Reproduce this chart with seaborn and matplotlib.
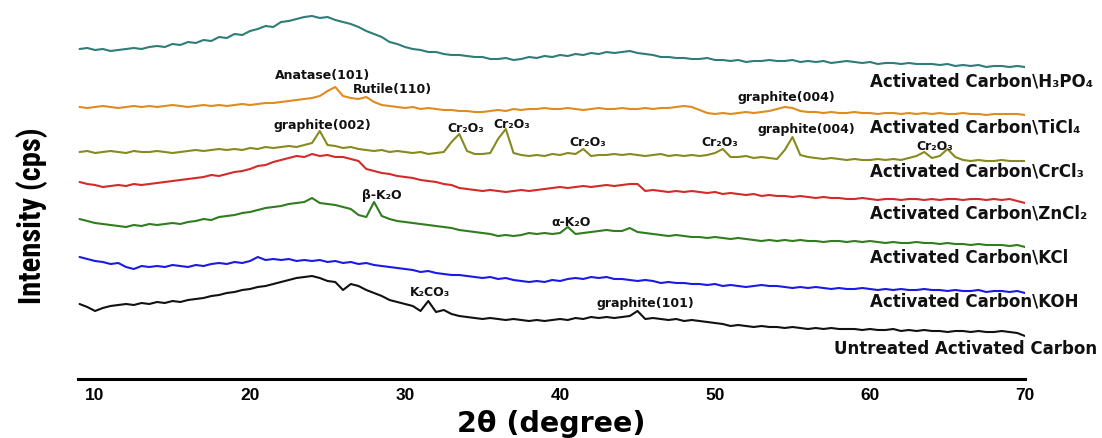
import numpy as np
import pandas as pd
import matplotlib
matplotlib.use("Agg")
import matplotlib.pyplot as plt
from matplotlib import font_manager
import seaborn as sns

# ---------------- data ----------------
two_theta = np.arange(9.0, 70.01, 0.5)  # sampling grid, 123 points

h3po4 = [330, 331, 329, 330, 328, 329, 330, 331, 330, 332,
         333, 332, 335, 334, 337, 336, 339, 338, 342, 341,
         345, 344, 348, 350, 353, 352, 357, 358, 360, 362,
         363, 361, 362, 359, 357, 355, 352, 348, 345, 342,
         337, 335, 332, 330, 329, 327, 327, 325, 324, 324,
         323, 322, 322, 320, 320, 321, 319, 320, 322, 321,
         323, 322, 324, 323, 325, 324, 326, 325, 327, 326,
         327, 328, 326, 325, 324, 322, 322, 321, 321, 320,
         320, 321, 319, 319, 318, 319, 317, 318, 318, 319,
         318, 318, 319, 317, 318, 317, 318, 316, 317, 318,
         317, 316, 317, 315, 316, 316, 315, 316, 315, 315,
         315, 314, 315, 313, 314, 313, 314, 312, 313, 313,
         312, 313, 312]

ticl4 = [272, 271, 272, 273, 272, 271, 272, 273, 272, 273,
         272, 273, 274, 273, 272, 273, 274, 273, 274, 273,
         274, 275, 274, 275, 276, 276, 277, 278, 279, 280,
         281, 283, 288, 292, 283, 281, 280, 282, 277, 274,
         273, 272, 271, 272, 270, 271, 270, 269, 269, 268,
         268, 267, 267, 268, 269, 268, 270, 269, 270, 270,
         271, 270, 270, 271, 270, 269, 270, 271, 270, 270,
         271, 270, 270, 271, 270, 271, 271, 272, 273, 272,
         269, 266, 265, 266, 265, 266, 267, 266, 267, 268,
         270, 272, 271, 268, 267, 267, 266, 267, 266, 266,
         267, 266, 266, 265, 266, 266, 265, 266, 265, 266,
         265, 266, 265, 265, 266, 265, 265, 264, 265, 265,
         265, 265, 264]

crcl3 = [227, 228, 226, 227, 228, 227, 226, 228, 227, 227,
         228, 227, 226, 227, 228, 229, 228, 229, 230, 229,
         230, 229, 231, 230, 232, 231, 232, 233, 232, 234,
         236, 248, 234, 233, 231, 232, 230, 229, 228, 229,
         227, 228, 227, 226, 227, 225, 226, 227, 237, 245,
         228, 225, 225, 226, 240, 250, 226, 224, 223, 224,
         223, 225, 224, 226, 225, 230, 223, 224, 224, 225,
         224, 225, 224, 223, 224, 225, 223, 224, 223, 224,
         223, 224, 226, 230, 222, 222, 223, 221, 222, 221,
         220, 229, 242, 224, 222, 221, 220, 221, 220, 219,
         220, 219, 219, 220, 219, 220, 219, 221, 223, 227,
         221, 223, 230, 222, 219, 218, 219, 218, 218, 219,
         218, 218, 218]

zncl2 = [197, 195, 194, 192, 193, 194, 193, 195, 194, 195,
         196, 197, 198, 199, 200, 201, 202, 204, 203, 205,
         207, 208, 210, 213, 214, 217, 219, 221, 223, 222,
         225, 223, 224, 222, 222, 220, 218, 210, 208, 206,
         205, 203, 202, 201, 199, 198, 197, 195, 194, 191,
         190, 189, 188, 189, 188, 187, 188, 189, 188, 189,
         190, 191, 192, 191, 192, 193, 192, 193, 194, 193,
         194, 195, 195, 188, 189, 188, 187, 188, 187, 188,
         187, 186, 187, 185, 186, 185, 184, 185, 183, 184,
         183, 183, 182, 183, 182, 181, 182, 181, 181, 180,
         180, 181, 180, 179, 180, 180, 179, 180, 180, 179,
         180, 179, 180, 180, 179, 180, 180, 179, 180, 179,
         180, 178, 176]

kcl = [160, 158, 156, 155, 154, 153, 152, 154, 153, 155,
       154, 155, 156, 155, 157, 158, 160, 159, 162, 163,
       164, 166, 167, 169, 171, 172, 173, 175, 176, 177,
       181, 176, 175, 174, 172, 170, 164, 162, 177, 163,
       160, 158, 157, 156, 155, 154, 153, 152, 151, 149,
       148, 147, 146, 145, 143, 144, 143, 144, 146, 145,
       146, 145, 146, 152, 145, 146, 147, 148, 149, 148,
       148, 151, 147, 146, 145, 144, 143, 144, 143, 142,
       142, 141, 142, 141, 140, 141, 140, 139, 138, 139,
       138, 139, 138, 139, 138, 138, 137, 138, 138, 137,
       138, 137, 138, 137, 136, 137, 136, 136, 137, 136,
       136, 135, 136, 135, 135, 134, 135, 134, 134, 134,
       133, 134, 132]

koh = [122, 120, 118, 117, 115, 116, 112, 110, 113, 112,
       113, 112, 114, 113, 112, 114, 113, 115, 116, 115,
       117, 116, 118, 122, 119, 120, 119, 120, 118, 119,
       118, 119, 117, 118, 116, 117, 115, 116, 114, 113,
       112, 111, 110, 109, 107, 108, 106, 105, 104, 104,
       103, 102, 101, 102, 100, 101, 99, 98, 97, 98,
       97, 99, 98, 100, 101, 100, 102, 101, 102, 100,
       100, 99, 98, 99, 98, 96, 97, 96, 96, 95,
       95, 94, 95, 93, 94, 93, 92, 93, 94, 93,
       93, 92, 91, 92, 91, 92, 91, 90, 91, 90,
       90, 91, 90, 89, 90, 89, 90, 89, 89, 90,
       89, 89, 88, 89, 88, 88, 89, 87, 88, 88,
       87, 88, 86]

untreated = [75, 72, 68, 71, 73, 74, 75, 74, 76, 75,
             77, 76, 78, 77, 79, 80, 81, 83, 84, 86,
             87, 89, 90, 92, 93, 95, 97, 99, 101, 102,
             103, 101, 98, 97, 89, 95, 93, 89, 86, 83,
             79, 77, 75, 73, 68, 78, 67, 69, 65, 63,
             62, 61, 60, 61, 60, 59, 60, 59, 58, 59,
             58, 59, 60, 59, 61, 60, 62, 61, 62, 61,
             62, 63, 68, 60, 61, 60, 59, 60, 58, 59,
             58, 57, 56, 55, 53, 54, 53, 52, 53, 52,
             52, 51, 52, 51, 50, 51, 50, 51, 50, 50,
             50, 49, 50, 49, 49, 50, 48, 49, 48, 49,
             48, 48, 47, 48, 48, 47, 48, 47, 47, 48,
             47, 46, 43]

sample_names = ["Activated Carbon\\H\u2083PO\u2084",
                "Activated Carbon\\TiCl\u2084",
                "Activated Carbon\\CrCl\u2083",
                "Activated Carbon\\ZnCl\u2082",
                "Activated Carbon\\KCl",
                "Activated Carbon\\KOH",
                "Untreated Activated Carbon"]
series = [h3po4, ticl4, crcl3, zncl2, kcl, koh, untreated]

x_ticks = [10, 20, 30, 40, 50, 60, 70]

peak_names = ["Anatase(101)", "Rutile(110)", "graphite(004)",
              "graphite(002)", "Cr\u2082O\u2083", "Cr\u2082O\u2083", "Cr\u2082O\u2083",
              "Cr\u2082O\u2083", "graphite(004)", "Cr\u2082O\u2083",
              "\u03b2-K\u2082O", "\u03b1-K\u2082O", "K\u2082CO\u2083", "graphite(101)"]

# ---------------- styling / layout ----------------
colors = ["#2e7d78", "#e08b1f", "#878a1e", "#d42a2a", "#2f7d1f", "#1a1ae6", "#111111"]
peak_pos = [(24.65, 305), (29.2, 290), (54.6, 283),
            (24.65, 254), (33.9, 252), (36.9, 256), (41.8, 238),
            (50.3, 238), (55.9, 250), (64.2, 234),
            (28.5, 184), (40.7, 158), (31.6, 87), (45.5, 77)]
name_pos = [(60.0, 298), (60.0, 253), (60.0, 208), (60.0, 166),
            (60.0, 122), (60.0, 78), (57.7, 31)]

sns.set_style("white")
plt.rcParams["font.family"] = ["DejaVu Sans"]
plt.rcParams["text.color"] = "black"
plt.rcParams["xtick.color"] = "black"
plt.rcParams["axes.labelcolor"] = "black"


def pick_font(candidates):
    for name in candidates:
        try:
            font_manager.findfont(font_manager.FontProperties(family=name, weight="bold"),
                                  fallback_to_default=False)
            return name
        except Exception:
            continue
    return None


narrow = pick_font(["Liberation Sans Narrow", "Roboto Condensed", "Arial Narrow"])

frames = []
for name, vals in zip(sample_names, series):
    frames.append(pd.DataFrame({"two_theta": two_theta, "intensity": vals, "sample": name}))
df = pd.concat(frames, ignore_index=True)

fig = plt.figure(figsize=(11.02, 4.39), dpi=100)
ax = fig.add_axes([78 / 1102, 1 - 380 / 439, (1025 - 78) / 1102, 380 / 439])

sns.lineplot(data=df, x="two_theta", y="intensity", hue="sample",
             palette=dict(zip(sample_names, colors)), estimator=None, sort=False,
             legend=False, linewidth=1.5, ax=ax)

ax.set_xlim(8.9, 70)
ax.set_ylim(0, 380)
for s in ["left", "right", "top"]:
    ax.spines[s].set_visible(False)
ax.spines["bottom"].set_linewidth(2.2)
ax.spines["bottom"].set_color("black")
ax.set_yticks([])

major = [t for t in x_ticks if t % 20 == 0]
minor = [t for t in x_ticks if t % 20 != 0]
tick_font = dict(family=["Liberation Sans", "DejaVu Sans"], weight="bold", size=12.5)
ax.set_xticks(major, labels=[str(t) for t in major], **tick_font)
ax.set_xticks(minor, labels=[str(t) for t in minor], minor=True, **tick_font)
ax.tick_params(axis="x", which="major", direction="in", length=7, width=1.6, pad=6,
               color="black", labelcolor="black")
ax.tick_params(axis="x", which="minor", direction="in", length=4, width=1.4, pad=6,
               color="black", labelcolor="black")

ax.set_xlabel("2\u03b8 (degree)", family=["DejaVu Sans"], weight="bold", size=20.5,
              color="black")
ax.xaxis.label.set_va("baseline")
ax.xaxis.set_label_coords(0.5, -(432 - 380) / 380)
ax.set_ylabel("")

if narrow is not None:
    yfam, ysize = [narrow, "Liberation Sans", "DejaVu Sans"], 22
else:
    yfam, ysize = ["Liberation Sans", "DejaVu Sans"], 18.5
fig.text(32 / 1102, 1 - 216 / 439, "Intensity (cps)", rotation=90, ha="center", va="center",
         family=yfam, weight="bold", size=ysize, color="black")

for (px, py), txt in zip(peak_pos, peak_names):
    ax.text(px, py, txt, ha="center", va="center", size=9, weight="bold", color="#111111")

for (px, py), txt in zip(name_pos, sample_names):
    ax.text(px, py, txt, ha="left", va="center", size=12, weight="bold",
            color="#111111", clip_on=False)

fig.savefig("out.png", dpi=100)
